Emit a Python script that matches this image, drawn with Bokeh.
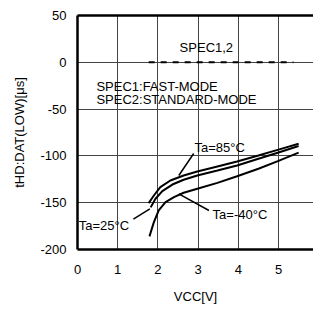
from bokeh.plotting import figure
from bokeh.models import Range1d, FixedTicker, LinearAxis, ColumnDataSource
from bokeh.core.properties import value
from bokeh.embed import file_html
from bokeh.resources import INLINE

# ---- data ----
x_ticks = [0, 1, 2, 3, 4, 5]
y_ticks = [-200, -150, -100, -50, 0, 50]
y_tick_labels = ["-200", "-150", "-100", "-50", "0", "50"]

vcc_85 = [1.77, 1.90, 2.06, 2.31, 2.64, 2.98, 3.48, 3.97, 4.5, 5.0, 5.5]
t_85 = [-150.5, -142.3, -133.4, -126.3, -120.9, -116.7, -111.3, -106, -99.5, -93.3, -87]

vcc_25 = [1.82, 1.94, 2.11, 2.36, 2.64, 2.98, 3.48, 3.97, 4.5, 5.0, 5.5]
t_25 = [-155, -145.8, -137.7, -130.6, -125.5, -120.9, -115.6, -110.3, -103.1, -96.3, -89.5]

vcc_m40 = [1.79, 1.90, 2.02, 2.19, 2.40, 2.64, 2.98, 3.48, 3.97, 4.5, 5.0, 5.5]
t_m40 = [-186, -170.8, -158.3, -149.5, -144.1, -139.4, -135.1, -128.8, -121.8, -113.7, -105.3, -96.5]

spec_x = [1.77, 5.37]
spec_y = [0, 0]

label_text = ["SPEC1,2", "SPEC1:FAST-MODE", "SPEC2:STANDARD-MODE", "Ta=85°C", "Ta=25°C", "Ta=-40°C"]
label_x = [2.54, 0.47, 0.47, 2.91, 0.03, 3.36]
label_y = [15.8, -25.9, -39.7, -90.9, -174.4, -162.6]

lead_x0 = [2.52, 1.39, 2.52]
lead_y0 = [-120.9, -167.5, -140.5]
lead_x1 = [2.89, 1.80, 3.27]
lead_y1 = [-97.4, -156.5, -158.3]

FONT = "Liberation Sans"

p = figure(width=313, height=313,
           x_range=Range1d(0, 5.87), y_range=Range1d(-200, 50),
           output_backend="svg", toolbar_location=None,
           min_border_left=77, min_border_top=15, min_border_bottom=64, min_border_right=0,
           x_axis_label="VCC[V]", y_axis_label="tHD:DAT(LOW)[μs]")
p.outline_line_color = None
p.background_fill_color = "white"
p.border_fill_color = "white"

p.xaxis.ticker = FixedTicker(ticks=x_ticks)
p.yaxis.ticker = FixedTicker(ticks=y_ticks)
p.yaxis.major_label_overrides = {t: s for t, s in zip(y_ticks, y_tick_labels)}

for ax in (p.xaxis[0], p.yaxis[0]):
    ax.axis_line_width = 2.5
    ax.axis_line_color = "black"
    ax.major_tick_out = 0
    ax.major_tick_in = 0
    ax.minor_tick_out = 0
    ax.minor_tick_in = 0
    ax.major_label_text_font = FONT
    ax.major_label_text_font_size = "13px"
    ax.major_label_text_color = "black"
    ax.axis_label_text_font = FONT
    ax.axis_label_text_font_size = "13px"
    ax.axis_label_text_font_style = "normal"
    ax.axis_label_text_color = "black"

p.xaxis.major_label_standoff = 15
p.xaxis.axis_label_standoff = 12
p.yaxis.major_label_standoff = 11
p.yaxis.axis_label_standoff = 10

top = LinearAxis(ticker=FixedTicker(ticks=[]), axis_line_width=2.5, axis_line_color="black",
                 major_tick_out=0, major_tick_in=0, minor_tick_out=0, minor_tick_in=0,
                 major_label_text_font_size="0px")
p.add_layout(top, "above")

p.xgrid.ticker = FixedTicker(ticks=x_ticks)
p.ygrid.ticker = FixedTicker(ticks=y_ticks)
p.grid.grid_line_color = "#444444"
p.grid.grid_line_width = 1

p.line(spec_x, spec_y, line_color="black", line_width=2, line_dash="6 6")

for xs, ys in ((vcc_85, t_85), (vcc_25, t_25), (vcc_m40, t_m40)):
    p.line(xs, ys, line_color="black", line_width=2)

p.segment(x0=lead_x0, y0=lead_y0, x1=lead_x1, y1=lead_y1, line_color="black", line_width=1.5)

src = ColumnDataSource(dict(x=label_x, y=label_y, t=label_text))
p.text(x="x", y="y", text="t", source=src, text_font=value(FONT), text_font_size="13px",
       text_align="left", text_baseline="middle", text_color="black")

open("out.html", "w").write(file_html(p, INLINE))
